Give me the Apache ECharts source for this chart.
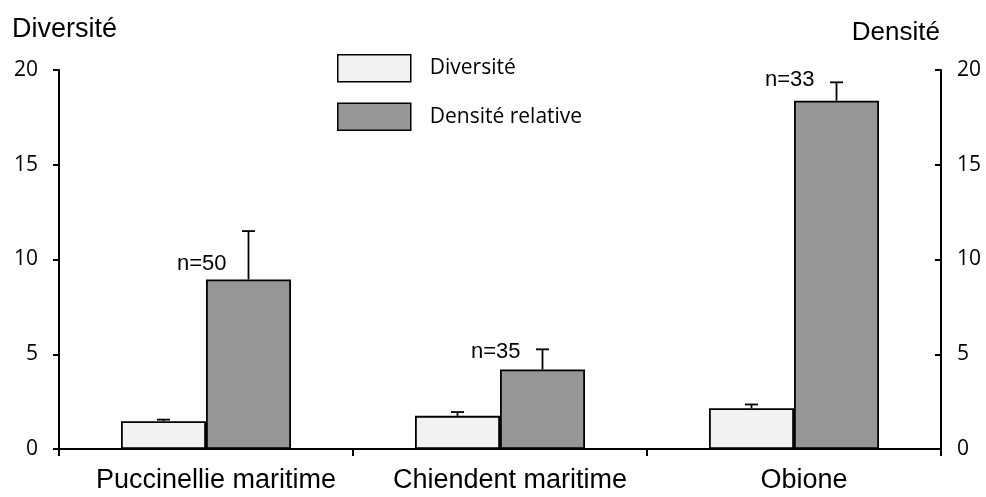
<!DOCTYPE html>
<html><head><meta charset="utf-8">
<script src="https://cdn.jsdelivr.net/npm/echarts@6/dist/echarts.min.js"></script>
<style>html,body{margin:0;padding:0;background:#fff}#c{width:986px;height:497px}</style>
</head><body><div id="c"></div>
<script>
const categories = ['Puccinellie maritime', 'Chiendent maritime', 'Obione'];
const diversite = [1.47, 1.75, 2.15];
const diversiteErr = [0.08, 0.2, 0.2];
const densite = [8.95, 4.2, 18.38];
const densiteErr = [2.55, 1.06, 0.97];
const nLabels = ['n=50', 'n=35', 'n=33'];
const nLabelY = [9.75, 5.1, 19.5];
const yTicks = [0, 5, 10, 15, 20];

const SANS = 'Liberation Sans';
const chart = echarts.init(document.getElementById('c'));
const BW = 85;
function errSeries(name, vals, errs, axisIdx, side, withLabels) {
  return {
    type: 'custom', name: name, yAxisIndex: axisIdx, z: 5, silent: true,
    data: vals.map((v, i) => [i, v, v + errs[i]]),
    renderItem: function (params, api) {
      const i = api.value(0);
      const p0 = api.coord([i, api.value(1)]);
      const p1 = api.coord([i, api.value(2)]);
      const x = p0[0] + side * BW / 2;
      const cap = 6.5;
      const children = [
        {type: 'line', shape: {x1: x, y1: p0[1], x2: x, y2: p1[1]}, style: {stroke: '#000', lineWidth: 1.8}},
        {type: 'line', shape: {x1: x - cap, y1: p1[1], x2: x + cap, y2: p1[1]}, style: {stroke: '#000', lineWidth: 1.8}}
      ];
      if (withLabels) {
        const pl = api.coord([i, nLabelY[i]]);
        children.push({type: 'text', x: x - 22, y: pl[1], style: {text: nLabels[i], fill: '#000', fontSize: 22, fontFamily: SANS, align: 'right', verticalAlign: 'middle'}});
      }
      return {type: 'group', children: children};
    }
  };
}

chart.setOption({
  animation: false,
  backgroundColor: '#fff',
  textStyle: {fontFamily: SANS, color: '#000'},
  grid: {left: 59, right: 45, top: 70, bottom: 48},
  graphic: [
    {type: 'text', left: 12, top: 16, style: {text: 'Diversité', fontSize: 27, fontFamily: SANS, fill: '#000'}},
    {type: 'text', right: 46, top: 20, style: {text: 'Densité', fontSize: 26, fontFamily: SANS, fill: '#000'}}
  ],
  legend: {
    orient: 'vertical', left: 332, top: 49, itemWidth: 73, itemHeight: 27, itemGap: 20, icon: 'rect',
    itemStyle: {borderColor: '#000', borderWidth: 1.5},
    textStyle: {fontSize: 21, fontFamily: 'Open Sans', color: '#000', padding: [0, 0, 0, 14]},
    data: ['Diversité', 'Densité relative']
  },
  xAxis: {
    type: 'category', data: categories,
    axisLine: {lineStyle: {color: '#000', width: 2}},
    axisTick: {show: true, alignWithLabel: false, length: 7, lineStyle: {color: '#000', width: 2}},
    axisLabel: {fontSize: 27, color: '#000', margin: 18, fontFamily: SANS, interval: 0, hideOverlap: false, padding: [0, 0, 0, 20]}
  },
  yAxis: [
    {type: 'value', min: 0, max: 20, interval: 5, position: 'left',
     axisLine: {show: true, lineStyle: {color: '#000', width: 2}},
     axisTick: {show: true, length: 6, lineStyle: {color: '#000', width: 2}},
     axisLabel: {fontSize: 21, color: '#000', margin: 21, fontFamily: 'Open Sans', formatter: v => yTicks.includes(v) ? String(v) : ''},
     splitLine: {show: false}},
    {type: 'value', min: 0, max: 20, interval: 5, position: 'right',
     axisLine: {show: true, lineStyle: {color: '#000', width: 2}},
     axisTick: {show: true, inside: true, length: 6, lineStyle: {color: '#000', width: 2}},
     axisLabel: {fontSize: 21, color: '#000', margin: 16, fontFamily: 'Open Sans', formatter: v => yTicks.includes(v) ? String(v) : ''},
     splitLine: {show: false}}
  ],
  series: [
    {name: 'Diversité', type: 'bar', data: diversite, barWidth: BW, barGap: '0%', yAxisIndex: 0,
     itemStyle: {color: '#f2f2f2', borderColor: '#000', borderWidth: 1.8}},
    {name: 'Densité relative', type: 'bar', data: densite, barWidth: BW, barGap: '0%', yAxisIndex: 1,
     itemStyle: {color: '#969696', borderColor: '#000', borderWidth: 1.8}},
    errSeries('errD', diversite, diversiteErr, 0, -1, false),
    errSeries('errR', densite, densiteErr, 1, 1, true)
  ]
});
</script></body></html>
